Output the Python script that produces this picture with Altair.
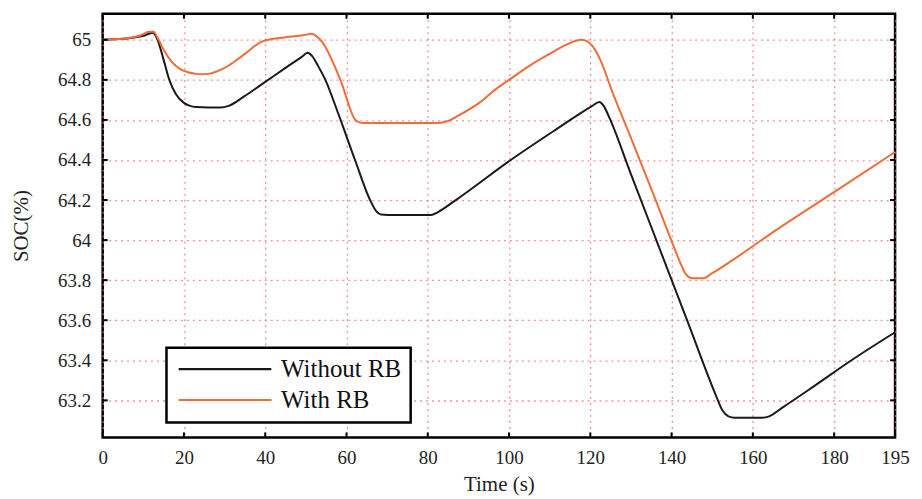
import altair as alt
import pandas as pd

# --- data ---
t_without = [0, 5, 10, 12.3, 13.5, 15, 16.4, 18, 20, 21.5, 23, 29, 31, 35, 40, 45, 49, 50.4,
             51.5, 53, 54.8, 58, 62.1, 65.8, 67.3, 68.5, 72, 80.8, 82.5, 86.9, 100.4, 111,
             120.5, 122.2, 123.3, 124.5, 130, 137, 144, 151, 152.5, 154, 155.5, 162, 164, 167,
             175, 185, 195]
soc_without = [65.0, 65.005, 65.02, 65.035, 65.0, 64.9, 64.8, 64.73, 64.685, 64.67, 64.665,
               64.662, 64.67, 64.72, 64.79, 64.86, 64.915, 64.935, 64.92, 64.87, 64.8, 64.63,
               64.4, 64.2, 64.145, 64.128, 64.125, 64.125, 64.14, 64.2, 64.4, 64.545,
               64.67, 64.69, 64.67, 64.62, 64.33, 63.96, 63.59, 63.22, 63.15, 63.12, 63.113,
               63.113, 63.12, 63.16, 63.27, 63.41, 63.54]

t_with = [0, 5, 9, 11.5, 12.5, 13.5, 15, 17, 19, 21, 23, 24.2, 26, 30, 35, 39, 42, 46, 50,
          51.4, 52.5, 54, 58.5, 62.2, 63.2, 64, 70, 82.5, 85, 87.4, 93, 96.5, 100, 105, 110,
          114, 116.5, 117.8, 119, 120.5, 122, 125.8, 130, 135.9, 140.5, 142.5, 143.5, 145,
          147.8, 150, 155, 165.7, 180, 195]
soc_with = [65.0, 65.005, 65.02, 65.04, 65.04, 65.01, 64.95, 64.89, 64.855, 64.838, 64.83,
            64.828, 64.83, 64.86, 64.93, 64.99, 65.005, 65.015, 65.025, 65.03, 65.02, 64.99,
            64.8, 64.6, 64.588, 64.585, 64.585, 64.585, 64.595, 64.62, 64.69, 64.75, 64.8,
            64.87, 64.93, 64.975, 64.995, 65.0, 64.995, 64.97, 64.92, 64.72, 64.51, 64.21,
            63.97, 63.87, 63.83, 63.81, 63.81, 63.835, 63.9, 64.05, 64.24, 64.44]

series_names = ["Without RB", "With RB"]
series_colors = ["#1a1a1a", "#EF6C3B"]
x_ticks = [0, 20, 40, 60, 80, 100, 120, 140, 160, 180, 195]
y_ticks = [63.2, 63.4, 63.6, 63.8, 64.0, 64.2, 64.4, 64.6, 64.8, 65.0]

df = pd.concat([
    pd.DataFrame({"t": t_without, "soc": soc_without, "series": series_names[0]}),
    pd.DataFrame({"t": t_with, "soc": soc_with, "series": series_names[1]}),
])
df_xt = pd.DataFrame({"x": x_ticks})
df_yt = pd.DataFrame({"y": y_ticks})

W, H = 795, 425
FONT = "Liberation Serif"

xscale = alt.Scale(domain=[0, 195], nice=False, zero=False)
yscale = alt.Scale(domain=[63.015, 65.13], nice=False, zero=False)

lines = alt.Chart(df).mark_line(strokeWidth=2, interpolate="monotone").encode(
    x=alt.X("t:Q", scale=xscale, title="Time (s)",
            axis=alt.Axis(values=x_ticks, format="d", ticks=False, labelPadding=11,
                          titlePadding=6, grid=True, labelFlush=False, labelOverlap=False)),
    y=alt.Y("soc:Q", scale=yscale, title="SOC(%)",
            axis=alt.Axis(values=y_ticks, format="~g", ticks=False, labelPadding=12,
                          titlePadding=26, grid=True, labelFlush=False, labelOverlap=False)),
    color=alt.Color("series:N", sort=series_names,
                    scale=alt.Scale(domain=series_names, range=series_colors),
                    legend=alt.Legend(title=None, orient="none", legendX=64, legendY=335,
                                      symbolType="M-1,0H9", symbolSize=346,
                                      symbolStrokeWidth=2.2, labelFontSize=25,
                                      labelFont=FONT, labelColor="#111",
                                      strokeColor="black", fillColor="white",
                                      padding=9, rowPadding=5, labelOffset=81)),
    order=alt.Order("t:Q"),
)

tick_len = 5
bottom_ticks = alt.Chart(df_xt).mark_rule(color="black", strokeWidth=2).encode(
    x=alt.X("x:Q", scale=xscale), y=alt.value(H), y2=alt.value(H - tick_len))
top_ticks = alt.Chart(df_xt).mark_rule(color="black", strokeWidth=2).encode(
    x=alt.X("x:Q", scale=xscale), y=alt.value(0), y2=alt.value(tick_len))
left_ticks = alt.Chart(df_yt).mark_rule(color="black", strokeWidth=2).encode(
    y=alt.Y("y:Q", scale=yscale), x=alt.value(0), x2=alt.value(tick_len))
right_ticks = alt.Chart(df_yt).mark_rule(color="black", strokeWidth=2).encode(
    y=alt.Y("y:Q", scale=yscale), x=alt.value(W), x2=alt.value(W - tick_len))

chart = alt.layer(lines, bottom_ticks, top_ticks, left_ticks, right_ticks).properties(
    width=W, height=H,
    autosize=alt.AutoSizeParams(type="none"),
    padding={"left": 95, "top": 5, "right": 19, "bottom": 61},
).configure_view(
    stroke="black", strokeWidth=2.5
).configure_axis(
    labelFont=FONT, labelFontSize=19, labelColor="#222",
    titleFont=FONT, titleFontSize=21, titleColor="#222", titleFontWeight="normal",
    domain=False, gridColor="#ee6f6f", gridOpacity=0.75, gridDash=[2, 4], gridWidth=1.3,
).configure_legend(
    strokeWidth=2.5, cornerRadius=0
)

chart.save("out.html", embed_options={"renderer": "svg", "actions": False})
